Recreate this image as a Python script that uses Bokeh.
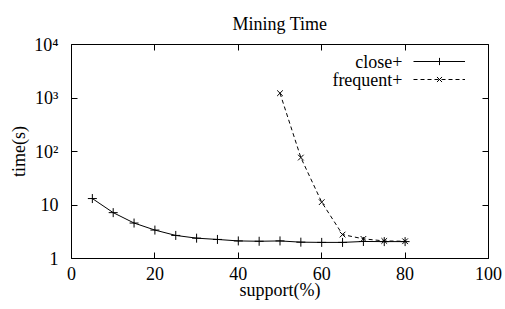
from bokeh.plotting import figure
from bokeh.models import (LogAxis, LinearAxis, FixedTicker, Legend, LegendItem,
                          Label, Range1d)
from bokeh.embed import file_html
from bokeh.resources import INLINE

# ---- data ----
support_close = [5, 10, 15, 20, 25, 30, 35, 40, 45, 50, 55, 60, 65, 70, 75, 80]
time_close = [13.2, 7.2, 4.6, 3.4, 2.7, 2.4, 2.27, 2.13, 2.1, 2.13, 2.02, 2.0, 2.0, 2.08, 2.07, 2.07]
support_freq = [50, 55, 60, 65, 70, 75, 80]
time_freq = [1230, 77, 11.3, 2.8, 2.33, 2.13, 2.1]
x_ticks = [0, 20, 40, 60, 80, 100]
y_ticks = [1, 10, 100, 1000, 10000]
y_tick_labels = ["1", "10", "10²", "10³", "10⁴"]
series_names = ["close+", "frequent+"]
x_label = "support(%)"
y_label = "time(s)"

FONT = "Liberation Serif"
FS = "18px"

p = figure(width=505, height=309, x_range=Range1d(0, 100), y_range=Range1d(1, 10000),
           y_axis_type="log", output_backend="svg", toolbar_location=None,
           min_border_left=71, min_border_right=17, min_border_top=44, min_border_bottom=51)
p.background_fill_color = "white"
p.border_fill_color = "white"
p.outline_line_color = "black"
p.outline_line_width = 1
p.grid.visible = False

p.title.text = "Mining Time"
p.title.align = "center"
p.title.text_font = FONT
p.title.text_font_size = FS
p.title.text_font_style = "normal"
p.title.text_color = "black"
p.title.standoff = 22

def style_axis(ax, labels=True):
    ax.axis_line_color = None
    ax.major_tick_in = 6
    ax.major_tick_out = 0
    ax.major_tick_line_color = "black"
    ax.minor_tick_line_color = None
    ax.major_label_text_font = FONT
    if labels:
        ax.major_label_text_font_size = FS
        ax.major_label_text_color = "black"
    else:
        ax.major_label_text_font_size = "1px"
        ax.major_label_text_color = None
    ax.axis_label_text_font = FONT
    ax.axis_label_text_font_size = FS
    ax.axis_label_text_font_style = "normal"
    ax.axis_label_text_color = "black"

xb = p.xaxis[0]
xb.ticker = FixedTicker(ticks=x_ticks)
xb.axis_label = x_label
style_axis(xb)
xb.major_label_standoff = 8
xb.axis_label_standoff = -3

yl = p.yaxis[0]
yl.ticker = FixedTicker(ticks=y_ticks)
yl.major_label_overrides = {t: s for t, s in zip(y_ticks, y_tick_labels)}
yl.axis_label = y_label
style_axis(yl)
yl.major_label_standoff = 13
yl.axis_label_standoff = 2

xt = LinearAxis(ticker=FixedTicker(ticks=x_ticks))
style_axis(xt, labels=False)
xt.major_label_standoff = 0
p.add_layout(xt, "above")

yr = LogAxis(ticker=FixedTicker(ticks=y_ticks))
style_axis(yr, labels=False)
yr.major_label_standoff = 0
p.add_layout(yr, "right")

l1 = p.line(support_close, time_close, line_color="black", line_width=1)
m1 = p.scatter(support_close, time_close, marker="cross", size=9, line_color="black", line_width=1)
l2 = p.line(support_freq, time_freq, line_color="black", line_width=1, line_dash="4 3")
m2 = p.scatter(support_freq, time_freq, marker="x", size=8, line_color="black", line_width=1)

legend = Legend(items=[LegendItem(label=" ", renderers=[l1, m1]),
                       LegendItem(label=" ", renderers=[l2, m2])],
                location=(342, 170), glyph_width=52, glyph_height=18, spacing=0,
                padding=0, margin=0, label_width=1, label_standoff=0, label_height=18,
                border_line_color=None, background_fill_alpha=0,
                label_text_font_size="10px", label_text_color=None)
p.add_layout(legend, "center")

for name, yy in zip(series_names, [197, 179]):
    p.add_layout(Label(x=331, y=yy, x_units="screen", y_units="screen", text=name,
                       text_align="right", text_baseline="middle",
                       text_font=FONT, text_font_size=FS, text_color="black"))

open("out.html", "w").write(file_html(p, INLINE))
